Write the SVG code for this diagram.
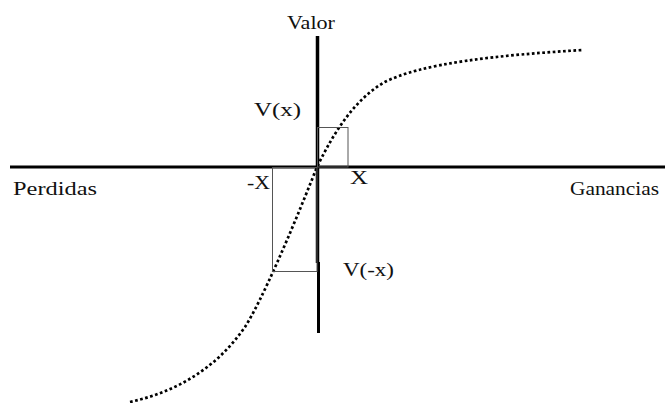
<svg xmlns="http://www.w3.org/2000/svg" width="665" height="403" viewBox="0 0 665 403">
<style>
.t{font-family:"Liberation Serif","Times New Roman",serif;font-size:18px;fill:#111}
.ax{stroke:#000;stroke-width:3;fill:none}
.box{stroke:#555;stroke-width:1;fill:none}
.curve{stroke:#000;stroke-width:2.7;fill:none;stroke-dasharray:2.7 2.5}
</style>
<rect width="665" height="403" fill="#fff"/>
<g id="connectors">
<line class="ax" x1="10" y1="167" x2="665" y2="167"/>
<line class="ax" x1="317.5" y1="36" x2="317.5" y2="263" style="stroke-width:3.5"/>
<line class="ax" x1="318.5" y1="262" x2="318.5" y2="333"/>
<path class="curve" d="M130,402 C175,392 215,370 245,327 C262,300 290,235 317,167 C335,130 355,100 383,83 C420,63 500,55 583,50"/>
</g>
<g id="box-pos"><rect class="box" x="317.5" y="127.5" width="30.5" height="39.5"/></g>
<g id="box-neg"><rect class="box" x="272.5" y="167.5" width="44.5" height="104"/></g>
<g id="label-valor"><text class="t" x="287" y="29" textLength="48" lengthAdjust="spacingAndGlyphs">Valor</text></g>
<g id="label-vx"><text class="t" x="254" y="116" textLength="47" lengthAdjust="spacingAndGlyphs">V(x)</text></g>
<g id="label-negx"><text class="t" x="247" y="189" textLength="23" lengthAdjust="spacingAndGlyphs">-X</text></g>
<g id="label-x"><text class="t" x="350" y="184" textLength="18" lengthAdjust="spacingAndGlyphs">X</text></g>
<g id="label-vnegx"><text class="t" x="343" y="276" textLength="51" lengthAdjust="spacingAndGlyphs">V(-x)</text></g>
<g id="label-perdidas"><text class="t" x="13" y="195" textLength="84" lengthAdjust="spacingAndGlyphs">Perdidas</text></g>
<g id="label-ganancias"><text class="t" x="570" y="195" textLength="89" lengthAdjust="spacingAndGlyphs">Ganancias</text></g>
</svg>
